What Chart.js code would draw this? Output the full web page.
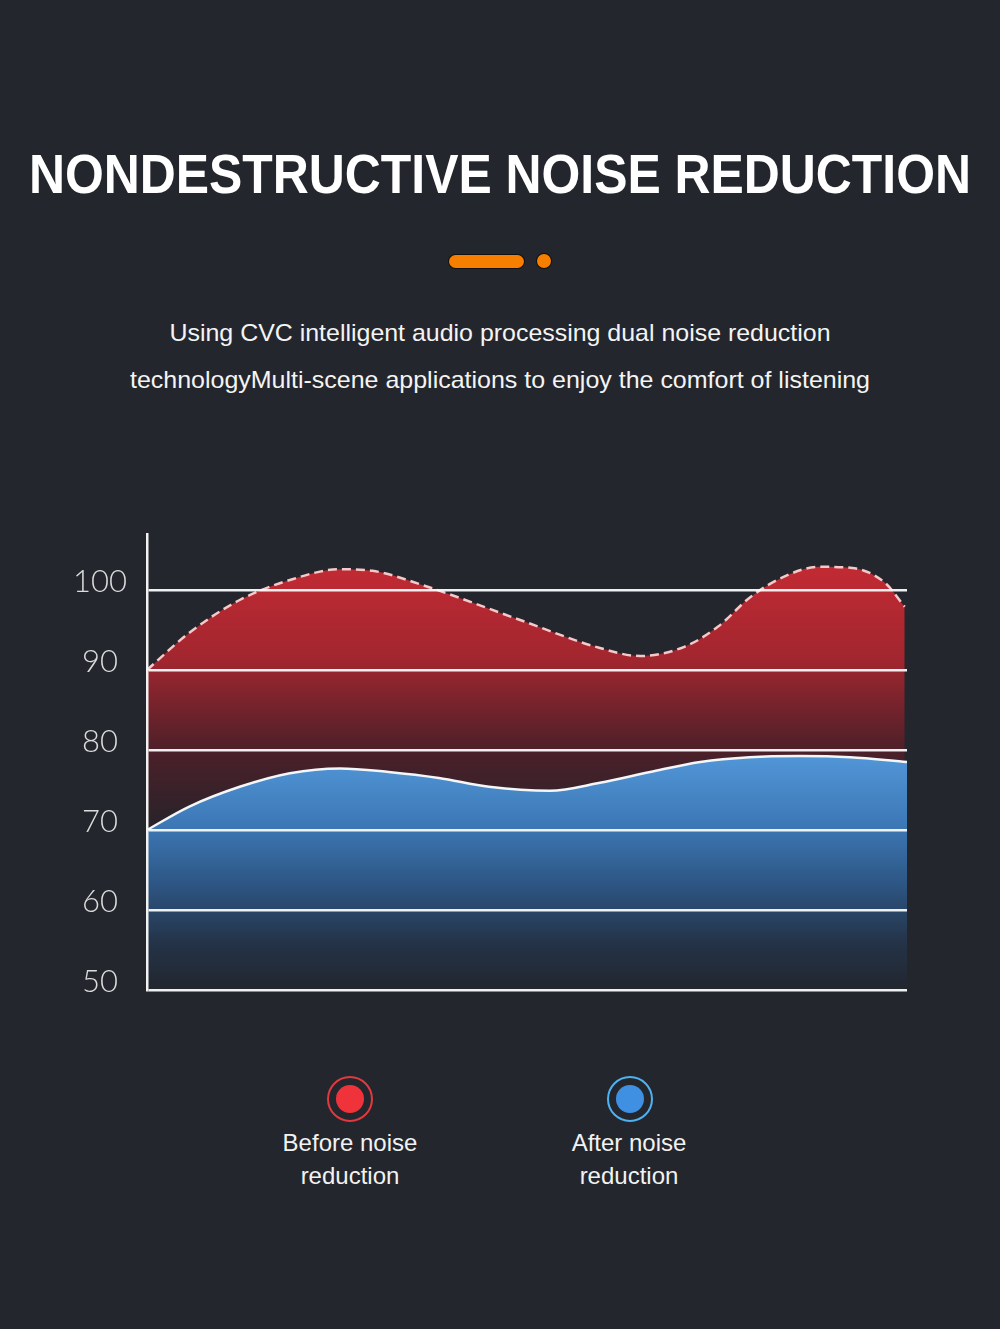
<!DOCTYPE html>
<html>
<head>
<meta charset="utf-8">
<script src="https://cdn.jsdelivr.net/npm/chart.js@4"></script>
<style>
  html, body { margin: 0; padding: 0; }
  body {
    width: 1000px; height: 1329px; position: relative; overflow: hidden;
    background: #23262d; font-family: "Liberation Sans", Arial, sans-serif; color: #fff;
  }
  .line { position: absolute; left: 0; width: 1000px; height: 60px; white-space: nowrap; }
  .line span { position: absolute; left: 50%; top: 0; transform-origin: 50% 50%; }
  #title { top: 146px; font-size: 56px; line-height: 56px; font-weight: 700; }
  .sub { font-size: 24px; line-height: 24px; color: #f4f4f4; }
  #sub1 { top: 321px; }
  #sub2 { top: 368px; }
  .pill { position: absolute; background: #f77f00; box-shadow: 0 0 0 1px #111; }
  #chartBox { position: absolute; left: 0; top: 484px; width: 1000px; height: 556px; }
  .ring { position: absolute; width: 46px; height: 46px; border-radius: 50%; border: 2.5px solid; box-sizing: border-box; }
  .dot { position: absolute; width: 28px; height: 28px; border-radius: 50%; }
  .lab { position: absolute; width: 240px; text-align: center; font-size: 24px; line-height: 33px; color: #f2f2f2; }
</style>
</head>
<body>
<div id="title" class="line"><span data-w="942">NONDESTRUCTIVE NOISE REDUCTION</span></div>
<div class="pill" style="left:449px;top:255px;width:75px;height:13px;border-radius:7px;"></div>
<div class="pill" style="left:537px;top:254px;width:14px;height:14px;border-radius:50%;"></div>
<div id="sub1" class="line sub"><span data-w="661">Using CVC intelligent audio processing dual noise reduction</span></div>
<div id="sub2" class="line sub"><span data-w="740">technologyMulti-scene applications to enjoy the comfort of listening</span></div>

<div id="chartBox"><canvas id="noiseChart"></canvas></div>

<div class="ring" style="left:327px;top:1076px;border-color:#e0393f;"></div>
<div class="dot" style="left:336px;top:1085px;background:#f0333b;"></div>
<div class="lab" style="left:230px;top:1126px;">Before noise<br>reduction</div>
<div class="ring" style="left:607px;top:1076px;border-color:#4fb2f0;"></div>
<div class="dot" style="left:616px;top:1085px;background:#3f90e2;"></div>
<div class="lab" style="left:509px;top:1126px;">After noise<br>reduction</div>

<script>
// positions along the x axis (percent of width)
const xBefore = [0, 5.5, 12.2, 18.8, 25.4, 29.7, 36.3, 49.1, 59.6, 64.9, 70.7, 75.1, 79.5, 83.9, 88.4, 92.8, 97.1, 99.7];
const before = [90, 94.6, 98.75, 101.25, 102.6, 102.4, 100.6, 96.25, 92.75, 91.75, 92.9, 95.4, 99.2, 101.7, 102.9, 102.75, 100.9, 97.9];
const xAfter = [0, 5.5, 12.2, 18.8, 25.4, 31.8, 38.4, 45, 53, 59.6, 66.2, 72.8, 79.3, 85.9, 92.5, 100];
const after = [70, 72.9, 75.4, 77.1, 77.7, 77.25, 76.5, 75.4, 74.9, 75.9, 77.25, 78.5, 79.1, 79.25, 79.1, 78.5];
const yTicks = [50, 60, 70, 80, 90, 100];

// squeeze the text lines to their widths
document.querySelectorAll(".line span").forEach(function (el) {
  const w = el.getBoundingClientRect().width;
  el.style.transform = "translateX(-50%) scaleX(" + (parseFloat(el.dataset.w) / w) + ")";
});

function toPoints(xs, ys) {
  return xs.map(function (x, i) { return { x: x, y: ys[i] }; });
}

function redFill(context) {
  const chart = context.chart;
  if (!chart.chartArea) return "rgba(180,40,48,0.8)";
  const y = chart.scales.y;
  const top = y.getPixelForValue(103), bottom = y.getPixelForValue(70);
  const g = chart.ctx.createLinearGradient(0, top, 0, bottom);
  g.addColorStop(0, "#c22a33");
  g.addColorStop(0.35, "#a2262f");
  g.addColorStop(0.7, "#4c2029");
  g.addColorStop(1, "#272329");
  return g;
}

function blueFill(context) {
  const chart = context.chart;
  if (!chart.chartArea) return "rgba(70,140,210,0.8)";
  const y = chart.scales.y;
  const top = y.getPixelForValue(79.5), bottom = y.getPixelForValue(50);
  const g = chart.ctx.createLinearGradient(0, top, 0, bottom);
  g.addColorStop(0, "#5297d8");
  g.addColorStop(0.3, "#3d78b6");
  g.addColorStop(0.55, "#2d5684");
  g.addColorStop(0.8, "#243348");
  g.addColorStop(1, "#22262e");
  return g;
}

const ctx = document.getElementById("noiseChart").getContext("2d");
const noiseChart = new Chart(ctx, {
  type: "line",
  data: {
    datasets: [
      {
        label: "After noise reduction",
        data: toPoints(xAfter, after),
        borderColor: "#f4f6f8",
        borderWidth: 2.5,
        backgroundColor: blueFill,
        fill: "start",
        cubicInterpolationMode: "monotone",
        pointRadius: 0,
        order: 0,
      },
      {
        label: "Before noise reduction",
        data: toPoints(xBefore, before),
        borderColor: "#f3c9c9",
        borderWidth: 2.5,
        borderDash: [9, 5],
        backgroundColor: redFill,
        fill: "start",
        cubicInterpolationMode: "monotone",
        pointRadius: 0,
        order: 1,
      },
    ],
  },
  options: {
    responsive: true,
    maintainAspectRatio: false,
    animation: false,
    layout: {
      padding: { left: 0, right: 93, top: 50, bottom: 50 },
    },
    scales: {
      x: {
        type: "linear",
        min: 0,
        max: 100,
        display: false,
      },
      y: {
        min: 50,
        max: 107,
        afterBuildTicks: function (scale) {
          scale.ticks = yTicks.map(function (v) { return { value: v }; });
        },
        afterFit: function (scale) {
          scale.width = 147;
        },
        ticks: {
          color: "#dcdcdc",
          padding: 20,
          crossAlign: "center",
          labelOffset: -8,
          font: { family: "Lato, Roboto, sans-serif", weight: 300, size: 31 },
        },
        grid: {
          z: 1,
          color: "rgba(250,250,250,0.95)",
          lineWidth: 2.5,
          drawTicks: false,
        },
        border: {
          z: 1,
          display: true,
          color: "#f2f2f2",
          width: 2.5,
        },
      },
    },
    plugins: {
      legend: { display: false },
      tooltip: { enabled: false },
    },
  },
});
</script>
</body>
</html>
